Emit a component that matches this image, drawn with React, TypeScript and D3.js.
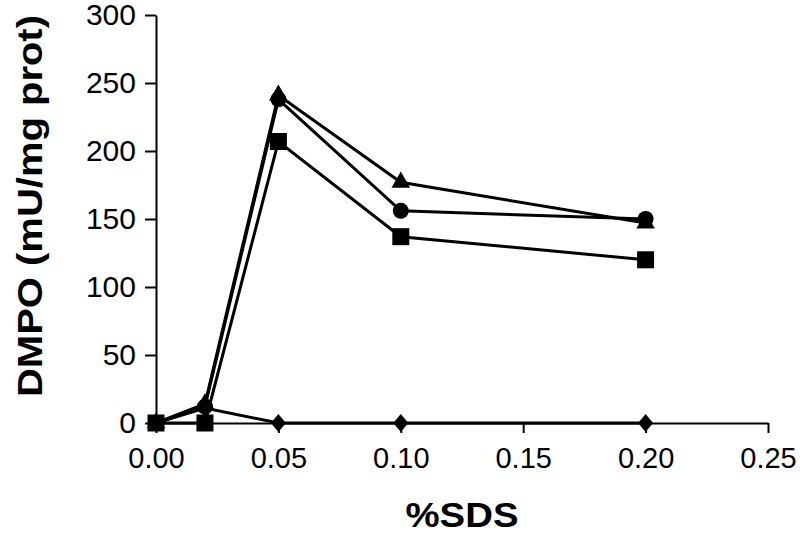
import React, { useEffect, useRef } from 'react';
import * as d3 from 'd3';

// %SDS concentrations
const sdsLevels = [0, 0.02, 0.05, 0.1, 0.2];

// DMPO activity (mU/mg prot) per series
const diamondValues = [0, 11, 0, 0, 0];
const squareValues = [0, 0, 207, 137, 120];
const circleValues = [0, 12, 238, 156, 150];
const triangleValues = [0, 14, 241, 177, 147];

const xTicks = [0, 0.05, 0.1, 0.15, 0.2, 0.25];
const yTicks = [0, 50, 100, 150, 200, 250, 300];

const series = [
  { name: 'diamond', values: diamondValues },
  { name: 'square', values: squareValues },
  { name: 'circle', values: circleValues },
  { name: 'triangle', values: triangleValues },
];

const width = 800;
const height = 535;
const margin = { left: 156, right: 32, top: 15, bottom: 112 };

const App = () => {
  const svgRef = useRef(null);

  useEffect(() => {
    const innerW = width - margin.left - margin.right;
    const innerH = height - margin.top - margin.bottom;

    const xScale = d3.scaleLinear().domain([0, 0.25]).range([0, innerW]);
    const yScale = d3.scaleLinear().domain([0, 300]).range([innerH, 0]);

    const svgEl = d3.select(svgRef.current);
    svgEl.selectAll('*').remove();
    const svg = svgEl
      .append('g')
      .attr('transform', `translate(${margin.left},${margin.top})`);

    const font = '"Liberation Sans", Arial, sans-serif';

    // x axis
    const xAxisGroup = svg
      .append('g')
      .attr('transform', `translate(0, ${innerH})`)
      .call(
        d3
          .axisBottom(xScale)
          .tickValues(xTicks)
          .tickSize(10)
          .tickSizeOuter(0)
          .tickPadding(14)
          .tickFormat(d3.format('.2f'))
      );
    xAxisGroup.select('.domain').attr('stroke', '#000').attr('stroke-width', 2);
    xAxisGroup.selectAll('line').attr('stroke', '#000').attr('stroke-width', 2);
    xAxisGroup
      .selectAll('text')
      .attr('fill', '#000')
      .attr('font-family', font)
      .attr('font-size', 29);

    // y axis
    const yAxisGroup = svg.append('g').call(
      d3
        .axisLeft(yScale)
        .tickValues(yTicks)
        .tickSize(11)
        .tickSizeOuter(0)
        .tickPadding(9)
    );
    yAxisGroup.select('.domain').attr('stroke', '#000').attr('stroke-width', 2);
    yAxisGroup.selectAll('line').attr('stroke', '#000').attr('stroke-width', 2);
    yAxisGroup
      .selectAll('text')
      .attr('fill', '#000')
      .attr('font-family', font)
      .attr('font-size', 30);

    // lines
    const line = d3
      .line<number>()
      .x((d, i) => xScale(sdsLevels[i]))
      .y((d) => yScale(d));

    svg
      .selectAll('.series-line')
      .data(series)
      .enter()
      .append('path')
      .attr('class', 'series-line')
      .attr('fill', 'none')
      .attr('stroke', '#000')
      .attr('stroke-width', 3)
      .attr('d', (d) => line(d.values));

    // markers
    const diamondPath = 'M0,-9L7.5,0L0,9L-7.5,0Z';
    const markerPath = (name: string) => {
      if (name === 'diamond') return diamondPath;
      if (name === 'square') return d3.symbol().type(d3.symbolSquare).size(289)();
      if (name === 'circle') return d3.symbol().type(d3.symbolCircle).size(200)();
      return d3.symbol().type(d3.symbolTriangle).size(150)();
    };

    series.forEach((s) => {
      svg
        .append('g')
        .selectAll('path')
        .data(s.values)
        .enter()
        .append('path')
        .attr('d', markerPath(s.name))
        .attr('fill', '#000')
        .attr(
          'transform',
          (d, i) => `translate(${xScale(sdsLevels[i])},${yScale(d)})`
        );
    });

    // axis titles
    svgEl
      .append('text')
      .attr('x', margin.left + innerW / 2)
      .attr('y', 527)
      .attr('text-anchor', 'middle')
      .attr('font-family', font)
      .attr('font-weight', 'bold')
      .attr('font-size', 35)
      .attr('textLength', 113)
      .attr('lengthAdjust', 'spacingAndGlyphs')
      .text('%SDS');

    svgEl
      .append('text')
      .attr('transform', 'translate(42, 206) rotate(-90)')
      .attr('text-anchor', 'middle')
      .attr('font-family', font)
      .attr('font-weight', 'bold')
      .attr('font-size', 35)
      .attr('textLength', 382)
      .attr('lengthAdjust', 'spacingAndGlyphs')
      .text('DMPO (mU/mg prot)');
  }, []);

  return (
    <svg
      ref={svgRef}
      width={width}
      height={height}
      style={{ position: 'absolute', left: 0, top: 0, background: '#fff' }}
    />
  );
};

export default App;
